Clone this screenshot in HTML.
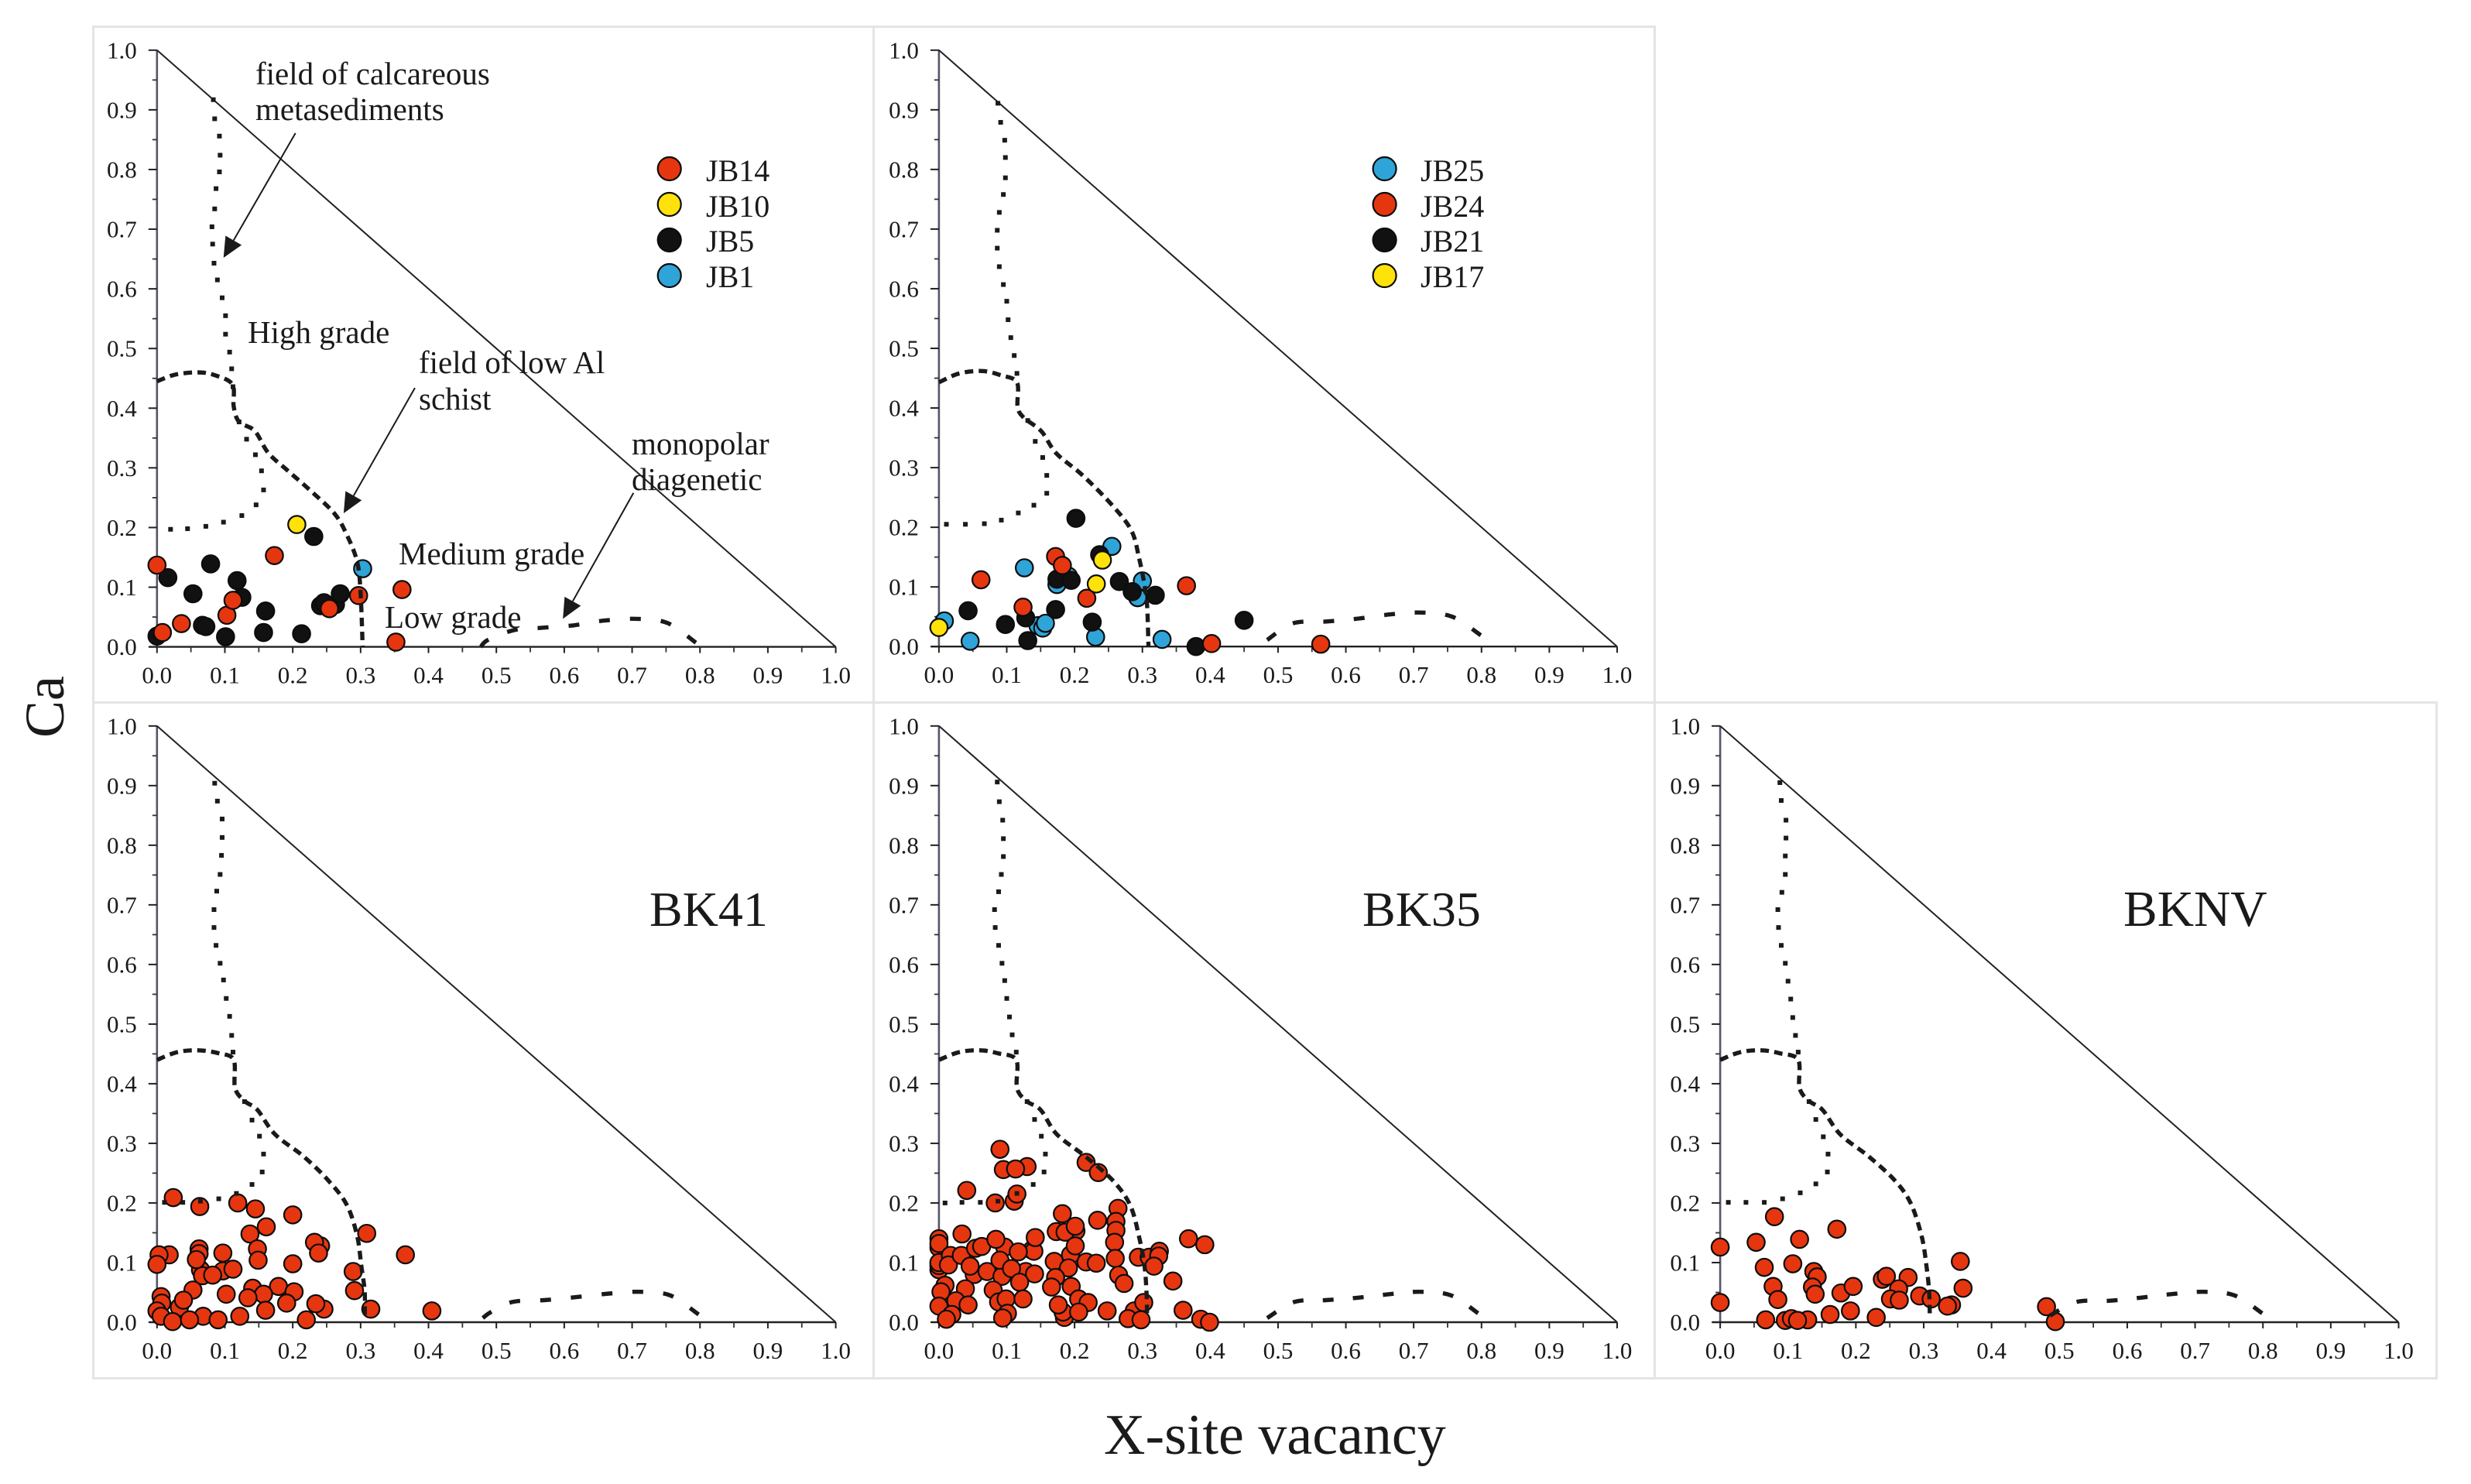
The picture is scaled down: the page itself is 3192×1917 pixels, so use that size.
<!DOCTYPE html>
<html lang="en">
<head>
<meta charset="utf-8">
<title>X-site vacancy vs Ca ternary plots</title>
<style>
html,body{margin:0;padding:0;background:#fff;}
svg{display:block;}
text{font-family:"Liberation Serif",serif;fill:#1a1a1a;}
.tick{font-size:31px;}
.note{font-size:41px;}
.leg{font-size:40px;}
.big{font-size:64px;}
</style>
</head>
<body>
<svg id="chart" xmlns="http://www.w3.org/2000/svg" width="3192" height="1917" viewBox="0 0 3192 1917">
<rect x="0" y="0" width="3192" height="1917" fill="#fff"/>
<g id="frames"></g>
<g id="marks"></g>
<g>
<text class="note" x="330" y="109">field of calcareous</text>
<text class="note" x="330" y="155">metasediments</text>
<text class="note" x="320" y="443">High grade</text>
<text class="note" x="541" y="482">field of low Al</text>
<text class="note" x="541" y="529">schist</text>
<text class="note" x="816" y="587">monopolar</text>
<text class="note" x="816" y="633">diagenetic</text>
<text class="note" x="515" y="729">Medium grade</text>
<text class="note" x="497" y="811">Low grade</text>
</g>
<g>
<text class="leg" x="912" y="234">JB14</text>
<text class="leg" x="912" y="280">JB10</text>
<text class="leg" x="912" y="325">JB5</text>
<text class="leg" x="912" y="371">JB1</text>
</g>
<g>
<text class="leg" x="1835" y="234">JB25</text>
<text class="leg" x="1835" y="280">JB24</text>
<text class="leg" x="1835" y="325">JB21</text>
<text class="leg" x="1835" y="371">JB17</text>
</g>
<text class="big" x="839" y="1196">BK41</text>
<text class="big" x="1760" y="1196">BK35</text>
<text class="big" x="2743" y="1196" style="font-size:65.5px">BKNV</text>
<text x="1426" y="1878" font-size="74">X-site vacancy</text>
<text transform="translate(82 953) rotate(-90)" font-size="72">Ca</text>
</svg>
<script>
// Axis tick values and labels
const tickValues = [0, 0.1, 0.2, 0.3, 0.4, 0.5, 0.6, 0.7, 0.8, 0.9, 1];
const tickLabels = ["0.0", "0.1", "0.2", "0.3", "0.4", "0.5", "0.6", "0.7", "0.8", "0.9", "1.0"];
const minorTicks = [0.05, 0.15, 0.25, 0.35, 0.45, 0.55, 0.65, 0.75, 0.85, 0.95];
const seriesColors = { red: "#e6360f", yellow: "#ffe20a", black: "#111111", blue: "#2fa4d8" };

// Panel 1 series [vacancy, Ca]
const jb14 = [[0,.137],[.008,.024],[.036,.039],[.103,.053],[.112,.078],[.173,.153],[.254,.064],[.297,.086],[.361,.096],[.352,.008]];
const jb10 = [[.206,.205]];
const jb5 = [[0,.018],[.016,.116],[.053,.089],[.079,.139],[.067,.036],[.072,.034],[.101,.017],[.118,.111],[.125,.083],[.16,.06],[.157,.024],[.213,.022],[.231,.185],[.241,.069],[.246,.074],[.263,.071],[.27,.089]];
const jb1 = [[.303,.131]];

// Panel 2 series
const jb25 = [[.008,.043],[.046,.009],[.126,.132],[.146,.035],[.153,.031],[.157,.039],[.174,.104],[.191,.118],[.231,.016],[.255,.168],[.3,.11],[.293,.082],[.329,.012]];
const jb24 = [[.062,.112],[.124,.066],[.172,.151],[.182,.136],[.218,.081],[.365,.102],[.402,.005],[.563,.004]];
const jb21 = [[.043,.06],[.098,.037],[.128,.048],[.131,.01],[.172,.062],[.174,.113],[.195,.111],[.202,.215],[.226,.041],[.237,.154],[.266,.109],[.285,.092],[.319,.086],[.379,0],[.45,.044]];
const jb17 = [[0,.032],[.232,.105],[.241,.145]];

// Panel 3-5 series
const bk41 = [[.024,.209],[.063,.194],[.119,.2],[.145,.19],[.2,.18],[.161,.16],[.137,.148],[.309,.149],[.241,.128],[.232,.134],[.238,.116],[.148,.123],[.149,.104],[.097,.116],[.062,.123],[.062,.115],[.018,.113],[.003,.113],[0,.097],[.064,.088],[.067,.078],[.058,.105],[.097,.086],[.082,.079],[.112,.089],[.2,.098],[.366,.113],[.289,.085],[.291,.053],[.053,.054],[.141,.057],[.179,.06],[.202,.051],[.157,.047],[.102,.047],[.134,.041],[.006,.043],[.007,.032],[.033,.025],[.039,.037],[.191,.032],[.246,.022],[.234,.031],[.315,.022],[.405,.019],[.16,.02],[0,.019],[.006,.01],[.068,.01],[.023,.001],[.048,.004],[.09,.004],[.122,.01],[.22,.004]];
const bk35 = [[.09,.29],[.095,.256],[.13,.261],[.113,.257],[.041,.221],[.083,.2],[.111,.203],[.115,.215],[.217,.268],[.235,.251],[.264,.191],[.261,.169],[.261,.154],[.259,.134],[.26,.107],[.265,.079],[.273,.065],[.234,.171],[.182,.182],[.173,.152],[.202,.153],[.186,.151],[.201,.161],[.194,.113],[.201,.128],[.17,.102],[.217,.101],[.232,.099],[.191,.091],[.172,.075],[.166,.059],[.195,.06],[.206,.039],[.185,.008],[.183,.017],[.176,.029],[.22,.033],[.206,.017],[.248,.019],[.288,.019],[.302,.033],[.279,.006],[.298,.004],[.294,.109],[.31,.109],[.325,.119],[.324,.111],[.317,.094],[.345,.069],[.36,.02],[.368,.14],[.392,.13],[.386,.005],[.399,0],[0,.14],[0,.125],[0,.132],[0,.088],[0,.095],[.0,.1],[.017,.112],[.014,.096],[.033,.112],[.034,.148],[.054,.124],[.063,.127],[.097,.126],[.084,.139],[.137,.121],[.14,.119],[.117,.118],[.142,.142],[.052,.08],[.046,.094],[.071,.085],[.093,.077],[.09,.104],[.128,.085],[.107,.09],[.141,.081],[.119,.067],[.009,.062],[.003,.051],[.039,.056],[.08,.054],[.025,.036],[.043,.029],[0,.027],[.019,.013],[.011,.005],[.088,.034],[.099,.039],[.124,.039],[.101,.015],[.094,.007]];
const bknv = [[.08,.177],[.172,.156],[0,.126],[.053,.134],[.117,.139],[.065,.092],[.107,.098],[.138,.085],[.143,.076],[.136,.059],[.078,.06],[.085,.038],[.14,.047],[.178,.049],[.196,.06],[0,.033],[.239,.072],[.245,.077],[.277,.075],[.263,.056],[.251,.039],[.264,.037],[.294,.044],[.311,.039],[.341,.029],[.335,.027],[.354,.102],[.358,.057],[.481,.026],[.494,.001],[.067,.004],[.096,.003],[.105,.006],[.129,.004],[.114,.003],[.162,.013],[.192,.019],[.23,.008]];

// Field boundaries per panel [vacancy, Ca]
const gradeLine1 = [[0,.445],[.026,.456],[.058,.46],[.083,.456],[.111,.44],[.113,.403],[.121,.377],[.144,.362],[.164,.325],[.193,.295],[.223,.265],[.261,.224],[.28,.187],[.295,.142],[.3,.09],[.303,0]];
const gradeLine2 = [[0,.443],[.03,.458],[.064,.462],[.091,.455],[.115,.443],[.116,.402],[.125,.384],[.151,.361],[.173,.324],[.212,.287],[.257,.235],[.284,.194],[.295,.149],[.303,.104],[.307,.067],[.309,0]];
const gradeLine3 = [[0,.44],[.03,.453],[.061,.456],[.091,.451],[.113,.44],[.115,.393],[.129,.371],[.148,.356],[.174,.315],[.216,.278],[.253,.237],[.28,.196],[.295,.144],[.301,.095],[.306,.051],[.306,.006]];
const gradeLine4 = [[0,.44],[.03,.453],[.061,.456],[.087,.451],[.114,.44],[.115,.393],[.129,.371],[.15,.356],[.174,.315],[.216,.278],[.257,.237],[.282,.196],[.295,.144],[.303,.095],[.306,.051],[.307,.006]];
const gradeLine5 = [[0,.44],[.03,.453],[.061,.456],[.088,.451],[.115,.44],[.117,.393],[.131,.371],[.151,.356],[.177,.315],[.219,.278],[.258,.237],[.281,.199],[.297,.144],[.304,.095],[.308,.051],[.309,.006]];

const lowLine1 = [[.477,0],[.488,.012],[.526,.028],[.567,.032],[.613,.036],[.658,.044],[.707,.047],[.752,.04],[.794,.007]];
const lowLine2 = [[.484,.011],[.522,.039],[.572,.042],[.619,.047],[.666,.054],[.712,.057],[.757,.05],[.799,.019]];
const lowLine3 = [[.48,.007],[.492,.017],[.524,.034],[.57,.037],[.616,.042],[.666,.048],[.711,.051],[.756,.045],[.798,.013]];
const lowLine4 = [[.484,.007],[.524,.034],[.57,.037],[.617,.041],[.664,.047],[.709,.051],[.755,.045],[.795,.015]];
const lowLine5 = [[.486,.011],[.525,.034],[.573,.036],[.619,.041],[.664,.047],[.712,.051],[.758,.045],[.799,.015]];

const dots1 = [[.083,.917],[.085,.885],[.092,.856],[.093,.824],[.092,.796],[.087,.768],[.085,.734],[.081,.704],[.082,.675],[.084,.643],[.089,.615],[.096,.585],[.101,.555],[.101,.524],[.107,.494],[.11,.466],[.112,.436],[.121,.377],[.132,.348],[.145,.322],[.154,.295],[.157,.263],[.146,.238],[.125,.22],[.098,.209],[.072,.202],[.045,.198],[.02,.197]];
const dots2 = [[.087,.911],[.091,.879],[.097,.849],[.098,.82],[.098,.786],[.095,.758],[.089,.728],[.086,.698],[.086,.668],[.089,.637],[.095,.607],[.1,.579],[.102,.548],[.106,.518],[.111,.488],[.115,.458],[.131,.379],[.142,.344],[.153,.317],[.159,.287],[.159,.257],[.14,.237],[.117,.224],[.092,.212],[.067,.206],[.039,.205],[.011,.205]];
const dots3 = [[.085,.904],[.089,.874],[.096,.844],[.096,.813],[.095,.783],[.093,.751],[.088,.723],[.084,.692],[.084,.662],[.087,.632],[.093,.602],[.098,.574],[.102,.543],[.107,.513],[.11,.481],[.112,.453],[.129,.37],[.14,.339],[.151,.312],[.157,.282],[.155,.252],[.14,.231],[.117,.216],[.091,.207],[.064,.203],[.038,.201],[.011,.201]];
const dots4 = [[.086,.906],[.089,.873],[.094,.842],[.095,.811],[.095,.781],[.092,.751],[.088,.722],[.082,.692],[.083,.662],[.088,.632],[.093,.602],[.097,.573],[.1,.543],[.104,.512],[.108,.482],[.114,.453],[.13,.37],[.141,.34],[.151,.312],[.157,.282],[.155,.252],[.139,.231],[.115,.216],[.087,.203],[.061,.201],[.034,.201],[.009,.2]];
const dots5 = [[.088,.905],[.09,.875],[.097,.842],[.097,.812],[.096,.782],[.096,.751],[.091,.721],[.085,.692],[.086,.662],[.09,.632],[.096,.602],[.1,.572],[.104,.542],[.107,.511],[.111,.481],[.115,.453],[.131,.37],[.141,.34],[.152,.311],[.159,.282],[.158,.252],[.141,.232],[.118,.217],[.092,.207],[.065,.201],[.038,.201],[.012,.201]];

// Annotation arrows in panel 1: [tail, tip] in data units
const calcArrow = [[.204,.861],[.098,.652]];
const lowAlArrow = [[.38,.434],[.275,.224]];
const monopolarArrow = [[.702,.258],[.598,.047]];

// Panel layout
const panels = [
  { id:"jb-a", frame:[120.5,34.5,1008,873], x0:202.8, y0:835.6, w:876.8, h:770.8,
    series:[["jb5",jb5,"black"],["jb1",jb1,"blue"],["jb10",jb10,"yellow"],["jb14",jb14,"red"]],
    grade:gradeLine1, low:lowLine1, dots:dots1 },
  { id:"jb-b", frame:[1128.5,34.5,1009,873], x0:1212.9, y0:835.2, w:876.1, h:770.4,
    series:[["jb25",jb25,"blue"],["jb21",jb21,"black"],["jb24",jb24,"red"],["jb17",jb17,"yellow"]],
    grade:gradeLine2, low:lowLine2, dots:dots2 },
  { id:"bk41", frame:[120.5,907.5,1008,873], x0:202.8, y0:1708, w:876.8, h:770.2,
    series:[["bk41",bk41,"red"]], grade:gradeLine3, low:lowLine3, dots:dots3 },
  { id:"bk35", frame:[1128.5,907.5,1009,873], x0:1212.9, y0:1708, w:876.1, h:770.2,
    series:[["bk35",bk35,"red"]], grade:gradeLine4, low:lowLine4, dots:dots4 },
  { id:"bknv", frame:[2137.5,907.5,1010,873], x0:2222.1, y0:1708, w:876.4, h:770.2,
    series:[["bknv",bknv,"red"]], grade:gradeLine5, low:lowLine5, dots:dots5 }
];

const SVGNS = "http://www.w3.org/2000/svg";
const framesGroup = document.getElementById("frames");
const marksGroup = document.getElementById("marks");

function make(tag, attrs, parent) {
  const el = document.createElementNS(SVGNS, tag);
  for (const k in attrs) el.setAttribute(k, attrs[k]);
  parent.appendChild(el);
  return el;
}

function smoothPath(pts) {
  let d = "M" + pts[0][0].toFixed(1) + " " + pts[0][1].toFixed(1);
  for (let i = 0; i < pts.length - 1; i++) {
    const p0 = pts[Math.max(i - 1, 0)], p1 = pts[i], p2 = pts[i + 1], p3 = pts[Math.min(i + 2, pts.length - 1)];
    const c1x = p1[0] + (p2[0] - p0[0]) / 6, c1y = p1[1] + (p2[1] - p0[1]) / 6;
    const c2x = p2[0] - (p3[0] - p1[0]) / 6, c2y = p2[1] - (p3[1] - p1[1]) / 6;
    d += "C" + c1x.toFixed(1) + " " + c1y.toFixed(1) + " " + c2x.toFixed(1) + " " + c2y.toFixed(1) + " " + p2[0].toFixed(1) + " " + p2[1].toFixed(1);
  }
  return d;
}

panels.forEach(function (p) {
  const sx = function (v) { return p.x0 + v * p.w; };
  const sy = function (v) { return p.y0 - v * p.h; };

  const frame = make("rect", { x:p.frame[0], y:p.frame[1], width:p.frame[2], height:p.frame[3], fill:"none", stroke:"#e4e4e4", "stroke-width":3 }, framesGroup);
  
  

  const g = make("g", {}, marksGroup);
  
  

  // y axis
  const yAxis = make("line", { x1:sx(0), y1:sy(0), x2:sx(0), y2:sy(1), stroke:"#55556a", "stroke-width":2.6 }, g);
  
  

  // x axis
  const xAxis = make("line", { x1:sx(0) - 10, y1:sy(0), x2:sx(1), y2:sy(0), stroke:"#222", "stroke-width":2.4 }, g);
  
  

  // boundary of diagram
  const hyp = make("line", { x1:sx(0), y1:sy(1), x2:sx(1), y2:sy(0), stroke:"#222", "stroke-width":2 }, g);
  
  

  tickValues.forEach(function (v, i) {
    const xt = make("line", { x1:sx(v), y1:sy(0), x2:sx(v), y2:sy(0) + 8, stroke:"#222", "stroke-width":2 }, g);
    
    
    const yt = make("line", { x1:sx(0) - 11, y1:sy(v), x2:sx(0), y2:sy(v), stroke:"#222", "stroke-width":2 }, g);
    
    
    const xl = make("text", { class:"tick", x:sx(v), y:sy(0) + 47, "text-anchor":"middle" }, g);
    
    
    xl.textContent = tickLabels[i];
    const yl = make("text", { class:"tick", x:sx(0) - 26, y:sy(v) + 10.5, "text-anchor":"end" }, g);
    
    
    yl.textContent = tickLabels[i];
  });

  minorTicks.forEach(function (v) {
    const xt = make("line", { x1:sx(v), y1:sy(0), x2:sx(v), y2:sy(0) + 7, stroke:"#333", "stroke-width":1.8 }, g);
    
    
    const yt = make("line", { x1:sx(0) - 6, y1:sy(v), x2:sx(0), y2:sy(v), stroke:"#333", "stroke-width":1.8 }, g);
    
    
  });

  // points
  p.series.forEach(function (s) {
    s[1].forEach(function (pt) {
      const c = make("circle", { cx:sx(pt[0]), cy:sy(pt[1]), r:11.2, fill:seriesColors[s[2]], stroke:"#0c0c0c", "stroke-width":2.2 }, g);
      
      
    });
  });

  // high / medium grade boundary
  const grade = make("path", { d:smoothPath(p.grade.map(function (q) { return [sx(q[0]), sy(q[1])]; })), fill:"none", stroke:"#1a1a1a", "stroke-width":5.4, "stroke-dasharray":"11 7" }, g);
  
  

  // low grade field: eight dashes fitted so the last one reaches the axis end of the curve
  const low = make("path", { d:smoothPath(p.low.map(function (q) { return [sx(q[0]), sy(q[1])]; })), fill:"none", stroke:"#1a1a1a", "stroke-width":5.4 }, g);
  
  
  const lowLength = low.getTotalLength();
  low.setAttribute("stroke-dasharray", "14 " + ((lowLength - 14 * 8) / 7).toFixed(2));

  // calcareous dotted boundary
  p.dots.forEach(function (q) {
    const d = make("rect", { x:sx(q[0]) - 3, y:sy(q[1]) - 3, width:6, height:6, fill:"#1a1a1a" }, g);
    
    
  });
});

// Legend markers
const legendA = ["red", "yellow", "black", "blue"];
const legendB = ["blue", "red", "black", "yellow"];
const legendRows = [218, 264, 310, 356];
legendA.forEach(function (col, i) {
  const m = make("circle", { cx:864.7, cy:legendRows[i], r:15, fill:seriesColors[col], stroke:"#0c0c0c", "stroke-width":2.2 }, marksGroup);
  
  
});
legendB.forEach(function (col, i) {
  const m = make("circle", { cx:1788.6, cy:legendRows[i], r:15, fill:seriesColors[col], stroke:"#0c0c0c", "stroke-width":2.2 }, marksGroup);
  
  
});

// Arrows
[[calcArrow, 'calcareous-field-arrow'], [lowAlArrow, 'low-al-field-arrow'], [monopolarArrow, 'monopolar-field-arrow']].forEach(function (a) {
  const p = panels[0];
  const tx = p.x0 + a[0][0][0] * p.w, ty = p.y0 - a[0][0][1] * p.h;
  const hx = p.x0 + a[0][1][0] * p.w, hy = p.y0 - a[0][1][1] * p.h;
  const len = Math.hypot(hx - tx, hy - ty), ux = (hx - tx) / len, uy = (hy - ty) / len;
  const bx = hx - ux * 26, by = hy - uy * 26;
  const g = make("g", {}, marksGroup);
  
  
  make("line", { x1:tx, y1:ty, x2:bx, y2:by, stroke:"#1a1a1a", "stroke-width":2 }, g);
  make("polygon", { points:hx + "," + hy + " " + (bx - uy * 12) + "," + (by + ux * 12) + " " + (bx + uy * 12) + "," + (by - ux * 12), fill:"#1a1a1a" }, g);
});
</script>
</body>
</html>
